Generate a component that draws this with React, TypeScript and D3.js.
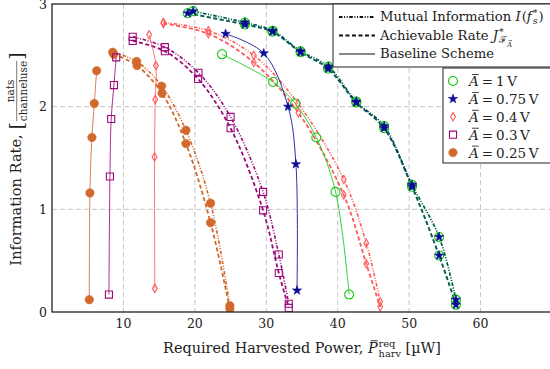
import { useEffect, useRef } from 'react';
import * as d3 from 'd3';

type Pt = [number, number];

const xTicks = [10, 20, 30, 40, 50, 60];
const yTicks = [0, 1, 2, 3];

// A = 1 V
const mi1V: Pt[] = [[19.75, 2.93], [27.0, 2.82], [30.9, 2.74], [34.8, 2.54], [38.7, 2.39], [42.6, 2.05], [46.5, 1.81], [50.4, 1.24], [54.2, 0.73], [56.55, 0.12]];
const rate1V: Pt[] = [[19.0, 2.91], [27.0, 2.8], [30.85, 2.73], [34.8, 2.53], [38.65, 2.37], [42.6, 2.04], [46.5, 1.79], [50.4, 1.22], [54.2, 0.55], [56.55, 0.07]];
const base1V: Pt[] = [[23.8, 2.51], [30.95, 2.24], [34.05, 2.03], [37.0, 1.7], [39.7, 1.17], [41.6, 0.17]];

// A = 0.75 V (sits on top of the 1 V curves)
const mi075V: Pt[] = [[19.75, 2.93], [27.0, 2.82], [30.9, 2.74], [34.8, 2.54], [38.7, 2.39], [42.6, 2.05], [46.5, 1.81], [50.4, 1.24], [54.2, 0.73], [56.55, 0.12]];
const rate075V: Pt[] = [[19.0, 2.91], [27.0, 2.8], [30.85, 2.73], [34.8, 2.53], [38.65, 2.37], [42.6, 2.04], [46.5, 1.79], [50.4, 1.22], [54.2, 0.55], [56.55, 0.07]];
const base075V: Pt[] = [[24.3, 2.71], [29.65, 2.52], [33.05, 2.0], [34.15, 1.44], [34.3, 0.21]];

// A = 0.4 V
const mi04V: Pt[] = [[15.6, 2.82], [21.9, 2.74], [28.25, 2.5], [34.45, 2.03], [40.85, 1.29], [44.0, 0.67], [45.95, 0.1]];
const rate04V: Pt[] = [[15.6, 2.81], [21.9, 2.71], [28.25, 2.43], [34.5, 1.94], [40.85, 1.14], [44.0, 0.47], [45.95, 0.05]];
const base04V: Pt[] = [[13.6, 2.7], [14.55, 2.4], [14.45, 2.07], [14.36, 1.51], [14.4, 0.23]];

// A = 0.3 V
const mi03V: Pt[] = [[11.3, 2.68], [15.8, 2.58], [20.5, 2.33], [25.0, 1.9], [29.55, 1.17], [31.75, 0.56], [33.15, 0.08]];
const rate03V: Pt[] = [[11.3, 2.64], [15.8, 2.54], [20.45, 2.27], [25.0, 1.79], [29.55, 0.99], [31.75, 0.38], [33.15, 0.04]];
const base03V: Pt[] = [[8.99, 2.48], [8.67, 2.21], [8.29, 1.88], [8.11, 1.32], [7.97, 0.17]];

// A = 0.25 V
const mi025V: Pt[] = [[8.5, 2.53], [11.85, 2.44], [15.35, 2.2], [18.75, 1.77], [22.2, 1.06], [24.9, 0.06]];
const rate025V: Pt[] = [[8.65, 2.51], [11.9, 2.4], [15.4, 2.13], [18.75, 1.64], [22.2, 0.87], [24.9, 0.03]];
const base025V: Pt[] = [[6.25, 2.35], [5.92, 2.03], [5.59, 1.7], [5.31, 1.16], [5.22, 0.12]];

const amplitudes = ['1', '0.75', '0.4', '0.3', '0.25'];

interface Run { t: string; size: number; italic?: boolean; dy?: number; back?: boolean; bar?: boolean; dx?: number }

const FONT = "'DejaVu Serif', serif";

// lays text pieces out left to right, returns total width
function drawRuns(g: d3.Selection<SVGGElement, unknown, null, undefined>, runs: Run[]) {
  let x = 0;
  let lastStart = 0;
  runs.forEach(r => {
    const sx = (r.back ? lastStart : x) + (r.dx ?? 0);
    const t = g.append('text')
      .attr('x', sx)
      .attr('y', r.dy ?? 0)
      .attr('font-size', r.size)
      .style('font-family', FONT)
      .attr('font-style', r.italic ? 'italic' : 'normal')
      .text(r.t);
    const w = (t.node() as SVGTextElement).getComputedTextLength();
    if (r.bar) {
      const by = (r.dy ?? 0) - r.size * 0.85;
      g.append('line')
        .attr('x1', sx + w * 0.3).attr('x2', sx + w * 1.0)
        .attr('y1', by).attr('y2', by)
        .attr('stroke', '#222').attr('stroke-width', Math.max(0.6, r.size / 16));
    }
    lastStart = sx;
    x = Math.max(x, sx + w);
  });
  return x;
}

const Chart = () => {
  const ref = useRef<SVGSVGElement>(null);

  useEffect(() => {
    if (!ref.current) return;
    const svg = d3.select(ref.current);
    svg.selectAll('*').remove();
    svg.attr('fill', '#222');

    const left = 52, top = 4, bottom = 312, right = 552;
    const x = d3.scaleLinear().domain([0, 70]).range([left, right]);
    const y = d3.scaleLinear().domain([0, 3]).range([bottom, top]);

    svg.append('defs').append('clipPath').attr('id', 'plot-clip')
      .append('rect').attr('x', left).attr('y', top).attr('width', right - left).attr('height', bottom - top);

    // grid
    const grid = svg.append('g').attr('stroke', '#c4c4c4').attr('stroke-width', 1).attr('stroke-dasharray', '5,3');
    grid.selectAll('line.v').data(xTicks).join('line')
      .attr('x1', d => x(d)).attr('x2', d => x(d)).attr('y1', top).attr('y2', bottom);
    grid.selectAll('line.h').data([1, 2]).join('line')
      .attr('class', 'h')
      .attr('x1', left).attr('x2', right).attr('y1', d => y(d)).attr('y2', d => y(d));

    const series = [
      { a: '0.25', color: '#d2692c', sym: d3.symbolCircle, size: 56, filled: true, mi: mi025V, rate: rate025V, base: base025V, op: 1 },
      { a: '0.3', color: '#9c0a78', sym: d3.symbolSquare, size: 50, filled: false, mi: mi03V, rate: rate03V, base: base03V, op: 1 },
      { a: '0.4', color: '#ff5a5a', sym: d3.symbolDiamond, size: 20, filled: false, mi: mi04V, rate: rate04V, base: base04V, op: 1 },
      { a: '1', color: '#14c814', sym: d3.symbolCircle, size: 64, filled: false, mi: mi1V, rate: rate1V, base: base1V, op: 1 },
      { a: '0.75', color: '#0a0a96', sym: d3.symbolStar, size: 26, filled: true, mi: mi075V, rate: rate075V, base: base075V, op: 0.6 },
    ];

    const line = d3.line<Pt>().x(d => x(d[0])).y(d => y(d[1])).curve(d3.curveCatmullRom.alpha(0.5));
    const plot = svg.append('g').attr('clip-path', 'url(#plot-clip)');

    series.forEach(s => {
      plot.append('path').attr('d', line(s.mi)).attr('fill', 'none')
        .attr('stroke', s.color).attr('stroke-width', 1.6).attr('stroke-opacity', s.op)
        .attr('stroke-dasharray', '3.5,1.6,1,1.6,1,1.6');
      plot.append('path').attr('d', line(s.rate)).attr('fill', 'none')
        .attr('stroke', s.color).attr('stroke-width', 1.8).attr('stroke-opacity', s.op)
        .attr('stroke-dasharray', '4,2.5');
      plot.append('path').attr('d', line(s.base)).attr('fill', 'none')
        .attr('stroke', s.color).attr('stroke-width', 1).attr('stroke-opacity', 0.85);
    });

    series.forEach(s => {
      const pts = [...s.mi, ...s.rate, ...s.base];
      plot.selectAll(null).data(pts).join('path')
        .attr('transform', d => `translate(${x(d[0])},${y(d[1])})`)
        .attr('d', d3.symbol(s.sym, s.size)())
        .attr('fill', s.filled ? s.color : 'none')
        .attr('stroke', s.color)
        .attr('stroke-width', s.filled ? 0.6 : 1.1);
    });

    // frame
    svg.append('rect').attr('x', left).attr('y', top).attr('width', right - left).attr('height', bottom - top)
      .attr('fill', 'none').attr('stroke', '#222').attr('stroke-width', 1.3);

    // tick labels
    svg.append('g').selectAll('text').data(xTicks).join('text')
      .attr('x', d => x(d)).attr('y', 328).attr('text-anchor', 'middle').attr('font-size', 12.5)
      .style('font-family', FONT)
      .text(d => d);
    svg.append('g').selectAll('text').data(yTicks).join('text')
      .attr('x', 47).attr('y', d => y(d) + 4.5).attr('text-anchor', 'end').attr('font-size', 12.5)
      .style('font-family', FONT)
      .text(d => d);

    // x label
    const xl = svg.append('g');
    const xw = drawRuns(xl, [
      { t: 'Required Harvested Power,\u00a0', size: 14.4 },
      { t: 'P', size: 14.4, italic: true, bar: true },
      { t: 'req', size: 9.8, dy: -6, dx: 1 },
      { t: 'harv', size: 9.8, dy: 4, back: true },
      { t: '\u00a0[\u00b5W]', size: 14.4 },
    ]);
    xl.attr('transform', `translate(${302 - xw / 2},353)`);

    // y label
    const yl = svg.append('g');
    const yMain = drawRuns(yl, [{ t: 'Information Rate,\u00a0', size: 14.6 }]);
    const br1 = yl.append('text').attr('x', yMain).attr('y', 2).attr('font-size', 19).style('font-family', FONT).text('[');
    const bw = (br1.node() as SVGTextElement).getComputedTextLength();
    const num = yl.append('text').attr('y', -7).attr('font-size', 10.5).style('font-family', FONT).attr('text-anchor', 'middle').text('nats');
    const den = yl.append('text').attr('y', 5.5).attr('font-size', 10.5).style('font-family', FONT).attr('text-anchor', 'middle').text('channeluse');
    const dw = (den.node() as SVGTextElement).getComputedTextLength();
    const fx = yMain + bw + 1 + dw / 2;
    num.attr('x', fx);
    den.attr('x', fx);
    yl.append('line').attr('x1', fx - dw / 2).attr('x2', fx + dw / 2).attr('y1', -4.3).attr('y2', -4.3)
      .attr('stroke', '#222').attr('stroke-width', 0.6);
    yl.append('text').attr('x', fx + dw / 2 + 1).attr('y', 2).attr('font-size', 19).style('font-family', FONT).text(']');
    const yTotal = fx + dw / 2 + 1 + bw;
    yl.attr('transform', `translate(21,${159 + yTotal / 2}) rotate(-90)`);

    // legend: line styles
    const lg1 = svg.append('g');
    lg1.append('rect').attr('x', 333).attr('y', top).attr('width', 230).attr('height', 63)
      .attr('fill', '#fff').attr('stroke', '#222').attr('stroke-width', 1);
    const styles = [
      { dash: '3.5,1.6,1,1.6,1,1.6', w: 1.8 },
      { dash: '4,2.5', w: 1.8 },
      { dash: null, w: 1 },
    ];
    styles.forEach((st, i) => {
      const cy = 17 + i * 18.5;
      lg1.append('line').attr('x1', 339).attr('x2', 375).attr('y1', cy).attr('y2', cy)
        .attr('stroke', '#111').attr('stroke-width', st.w).attr('stroke-dasharray', st.dash);
    });
    const r1 = lg1.append('g').attr('transform', 'translate(380,21)');
    drawRuns(r1, [
      { t: 'Mutual Information\u00a0', size: 13.2 },
      { t: 'I', size: 13.2, italic: true },
      { t: '(', size: 13.2, dx: 1 },
      { t: 'f', size: 13.2, italic: true },
      { t: '*', size: 9.5, dy: -5, dx: 1 },
      { t: 's', size: 9.5, dy: 3, italic: true, back: true },
      { t: ')', size: 13.2, dx: 1 },
    ]);
    const r2 = lg1.append('g').attr('transform', 'translate(380,39.5)');
    drawRuns(r2, [
      { t: 'Achievable Rate\u00a0', size: 13.2 },
      { t: 'J', size: 13.2, italic: true },
      { t: '*', size: 9.5, dy: -5, dx: 1 },
      { t: '\u2131', size: 9.5, dy: 3.5, back: true },
      { t: 'A', size: 7, dy: 7, italic: true, bar: true },
    ]);
    const r3 = lg1.append('g').attr('transform', 'translate(380,58)');
    drawRuns(r3, [{ t: 'Baseline Scheme', size: 13.2 }]);

    // legend: amplitudes
    const lg2 = svg.append('g');
    lg2.append('rect').attr('x', 443).attr('y', 68).attr('width', 120).attr('height', 95)
      .attr('fill', '#fff').attr('stroke', '#222').attr('stroke-width', 1);
    const byA = new Map(series.map(s => [s.a, s]));
    amplitudes.forEach((a, i) => {
      const s = byA.get(a)!;
      const cy = 81 + i * 17.9;
      lg2.append('path').attr('transform', `translate(453,${cy})`)
        .attr('d', d3.symbol(s.sym, s.size)())
        .attr('fill', s.filled ? s.color : 'none')
        .attr('stroke', s.color).attr('stroke-width', s.filled ? 0.6 : 1.1);
      const row = lg2.append('g').attr('transform', `translate(469,${cy + 5})`);
      drawRuns(row, [
        { t: 'A', size: 13.5, italic: true, bar: true },
        { t: '=', size: 13.5, dx: 3 },
        { t: a, size: 13.5, dx: 3 },
        { t: 'V', size: 13.5, dx: 2.5 },
      ]);
    });
  }, []);

  return <svg ref={ref} width={550} height={369} style={{ position: 'absolute', left: 0, top: 0, background: '#fff', fontFamily: FONT }} />;
};

export default function App() {
  return <Chart />;
}
